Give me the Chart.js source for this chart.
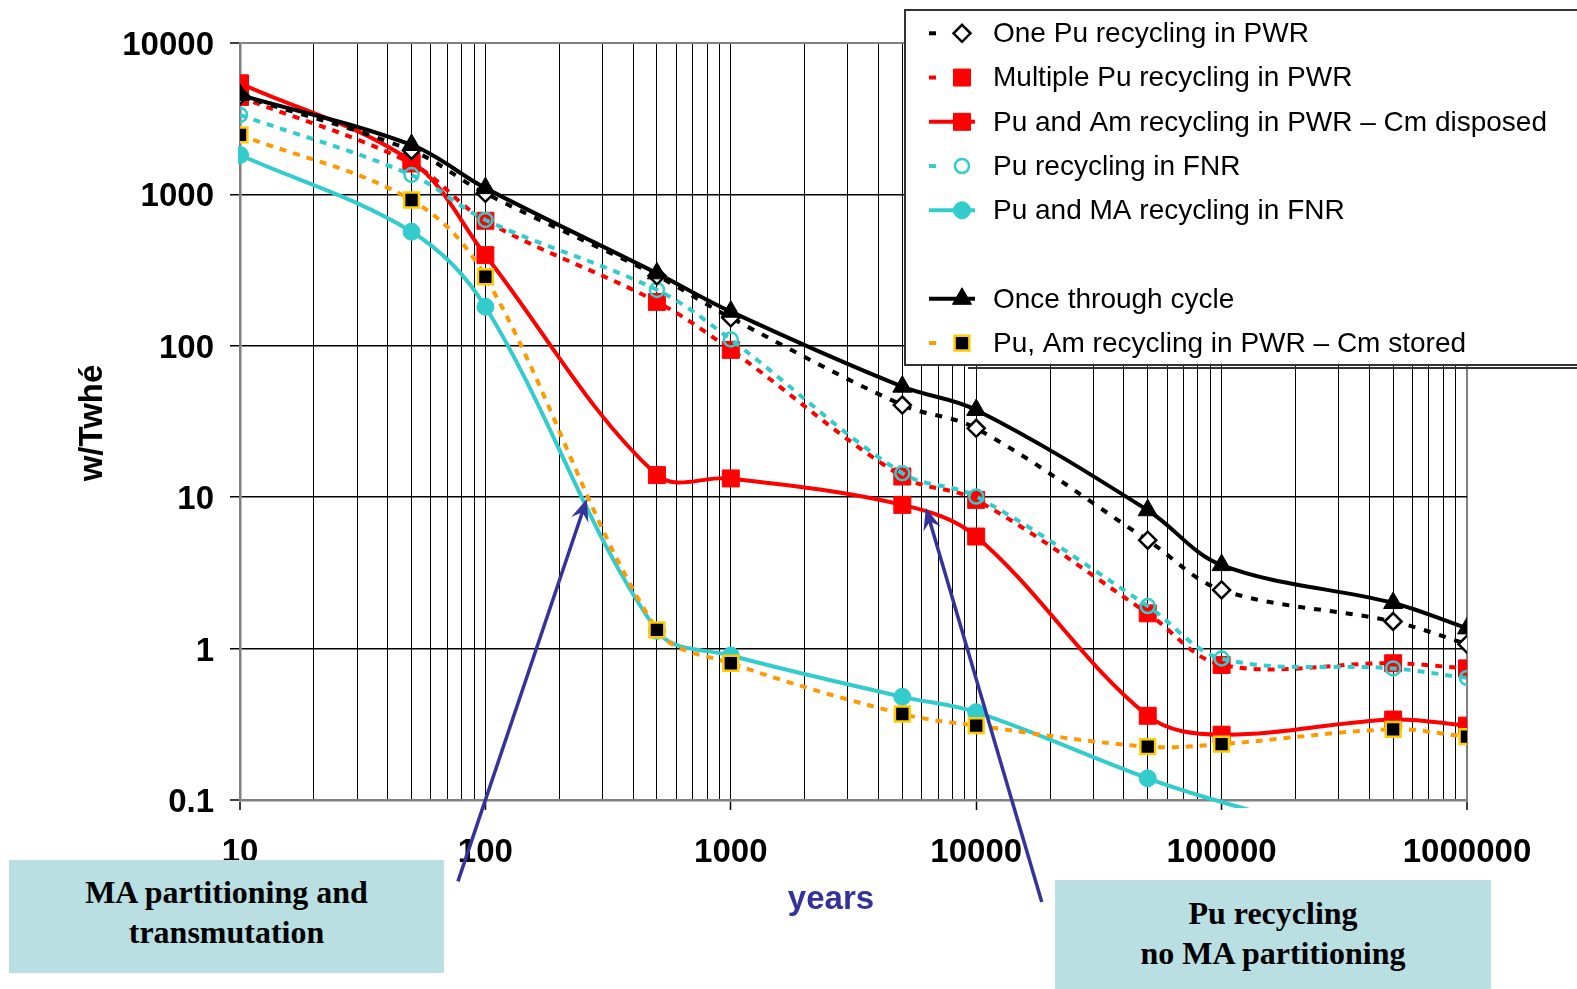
<!DOCTYPE html>
<html>
<head>
<meta charset="utf-8">
<script src="https://cdn.jsdelivr.net/npm/chart.js@4.4.0/dist/chart.umd.min.js"></script>
<style>
  html, body { margin: 0; padding: 0; background: #fff; overflow: hidden; }
  #quadro { position: relative; width: 1577px; height: 989px; }
  #grafico { position: absolute; left: 0; top: 0; }
  .nota {
    position: absolute;
    background: #b9dfe3;
    font-family: "Liberation Serif", "Times New Roman", serif;
    font-weight: bold;
    font-size: 32px;
    line-height: 40px;
    text-align: center;
    box-sizing: border-box;
    color: #000;
  }
</style>
</head>
<body>
<div id="quadro">
  <canvas id="grafico" width="1577" height="989"></canvas>
  <div class="nota" style="left:9px;top:860px;width:435px;height:113px;padding-top:12px">MA partitioning and<br>transmutation</div>
  <div class="nota" style="left:1055px;top:880px;width:436px;height:109px;padding-top:13px">Pu recycling<br>no MA partitioning</div>
</div>
<script>
// anos após a descarga
const anos = [10, 50, 100, 500, 1000, 5000, 10000, 50000, 100000, 500000, 1000000];

// potência térmica (w/TWhe) por cenário
const cicloAberto      = [4540, 2120, 1100, 301, 168, 53.7, 37.7, 8.2, 3.56, 2.0, 1.36];
const umaReciclagemPu  = [4500, 1950, 1016, 290, 153, 40.6, 28.5, 5.2, 2.44, 1.51, 1.07];
const multiplaPuPwr    = [4400, 1600, 670, 195, 94, 13.7, 9.6, 1.71, 0.78, 0.80, 0.74];
const puAmCmDescartado = [5420, 1650, 397, 14.0, 13.3, 8.9, 5.5, 0.36, 0.27, 0.34, 0.31];
const puFnr            = [3350, 1344, 678, 234, 110, 14.4, 10.1, 1.91, 0.86, 0.74, 0.64];
const puAmFnr          = [1820, 567, 181, 1.31, 0.90, 0.48, 0.38, 0.139, 0.097, 0.047, null];
const puAmCmArmazenado = [2470, 918, 286, 1.33, 0.80, 0.37, 0.31, 0.225, 0.234, 0.293, 0.262];

// rótulos dos eixos
const xRotulos = [10, 100, 1000, 10000, 100000, 1000000];
const yRotulos = [0.1, 1, 10, 100, 1000, 10000];
const multiplosMenores = [1, 2, 3, 4, 5, 6, 7, 8, 9];

// setas das anotações (coordenadas em anos / w/TWhe)
const setas = [
  { de: [77.3, 0.029], para: [259, 9.73] },
  { de: [18500, 0.0212], para: [6237, 8.49] }
];

const PRETO = "#000000";
const VERMELHO = "#ff0000";
const CIANO = "#33cccc";
const LARANJA = "#ff9900";
const OURO = "#ffcc00";
const CINZA = "#808080";
const AZUL = "#333399";
const FONTE = "'Liberation Sans', Arial, sans-serif";

function pontos(valores) {
  return anos.map((x, i) => ({ x, y: valores[i] })).filter(p => p.y !== null);
}

const xGrade = [];
xRotulos.slice(0, -1).forEach(d => multiplosMenores.forEach(m => xGrade.push(d * m)));
xGrade.push(xRotulos[xRotulos.length - 1]);

// ordem do array = ordem de desenho (primeiro fica por cima)
const datasets = [
  {
    label: "Once through cycle", data: pontos(cicloAberto),
    borderColor: PRETO, borderWidth: 4, tension: 0.35,
    pointStyle: "triangle", pointRadius: 11, pointBackgroundColor: PRETO, pointBorderColor: PRETO, pointBorderWidth: 1
  },
  {
    label: "One Pu recycling in PWR", data: pontos(umaReciclagemPu),
    borderColor: PRETO, borderWidth: 4, borderDash: [7, 9], tension: 0.35,
    pointStyle: "rectRot", pointRadius: 8.5, pointBackgroundColor: "#ffffff", pointBorderColor: PRETO, pointBorderWidth: 2.5
  },
  {
    label: "Pu recycling in FNR", data: pontos(puFnr),
    borderColor: CIANO, borderWidth: 4, borderDash: [7, 7], tension: 0.35,
    pointStyle: "circle", pointRadius: 7, pointBackgroundColor: "rgba(0,0,0,0)", pointBorderColor: CIANO, pointBorderWidth: 2.5
  },
  {
    label: "Pu, Am recycling in PWR – Cm stored", data: pontos(puAmCmArmazenado),
    borderColor: LARANJA, borderWidth: 4, borderDash: [7, 7], tension: 0.35,
    pointStyle: "rect", pointRadius: 10.5, pointBackgroundColor: PRETO, pointBorderColor: OURO, pointBorderWidth: 2.5
  },
  {
    label: "Multiple Pu recycling in PWR", data: pontos(multiplaPuPwr),
    borderColor: VERMELHO, borderWidth: 4, borderDash: [7, 7], tension: 0.35,
    pointStyle: "rect", pointRadius: 12, pointBackgroundColor: VERMELHO, pointBorderColor: VERMELHO, pointBorderWidth: 1
  },
  {
    label: "Pu and Am recycling in PWR – Cm disposed", data: pontos(puAmCmDescartado),
    borderColor: VERMELHO, borderWidth: 4, tension: 0.35,
    pointStyle: "rect", pointRadius: 12, pointBackgroundColor: VERMELHO, pointBorderColor: VERMELHO, pointBorderWidth: 1
  },
  {
    label: "Pu and MA recycling in FNR", data: pontos(puAmFnr),
    borderColor: CIANO, borderWidth: 4, tension: 0.35,
    clip: { left: 2, top: 2, right: 2, bottom: 8 },
    pointStyle: "circle", pointRadius: c => (c.raw && c.raw.y < yRotulos[0] ? 0 : 8.5),
    pointBackgroundColor: CIANO, pointBorderColor: CIANO, pointBorderWidth: 1
  }
];

// ordem da legenda (null = linha em branco)
const ordemLegenda = [
  "One Pu recycling in PWR",
  "Multiple Pu recycling in PWR",
  "Pu and Am recycling in PWR – Cm disposed",
  "Pu recycling in FNR",
  "Pu and MA recycling in FNR",
  null,
  "Once through cycle",
  "Pu, Am recycling in PWR – Cm stored"
];

function desenharMarcador(ctx, ds, x, y) {
  const r = typeof ds.pointRadius === "function" ? 8.5 : ds.pointRadius;
  ctx.save();
  ctx.fillStyle = ds.pointBackgroundColor;
  ctx.strokeStyle = ds.pointBorderColor;
  ctx.lineWidth = ds.pointBorderWidth;
  ctx.setLineDash([]);
  if (Chart.helpers && Chart.helpers.drawPoint) {
    Chart.helpers.drawPoint(ctx, { pointStyle: ds.pointStyle, rotation: 0, radius: r, borderWidth: ds.pointBorderWidth }, x, y);
  }
  ctx.restore();
}

const pluginExtras = {
  id: "extras",
  afterDraw(chart) {
    const ctx = chart.ctx;
    const sx = chart.scales.x;
    const sy = chart.scales.y;

    // títulos dos eixos
    ctx.save();
    ctx.font = "bold 33px " + FONTE;
    ctx.fillStyle = AZUL;
    ctx.textAlign = "center";
    ctx.textBaseline = "middle";
    ctx.fillText("years", 831, 900);
    ctx.fillStyle = PRETO;
    ctx.translate(93, 423);
    ctx.rotate(-Math.PI / 2);
    ctx.fillText("w/Twhé", 0, 0);
    ctx.restore();

    // setas
    setas.forEach(s => {
      const x0 = sx.getPixelForValue(s.de[0]);
      const y0 = sy.getPixelForValue(s.de[1]);
      const x1 = sx.getPixelForValue(s.para[0]);
      const y1 = sy.getPixelForValue(s.para[1]);
      const ang = Math.atan2(y1 - y0, x1 - x0);
      ctx.save();
      ctx.strokeStyle = AZUL;
      ctx.fillStyle = AZUL;
      ctx.lineWidth = 3.5;
      ctx.beginPath();
      ctx.moveTo(x0, y0);
      ctx.lineTo(x1 - Math.cos(ang) * 10, y1 - Math.sin(ang) * 10);
      ctx.stroke();
      ctx.translate(x1, y1);
      ctx.rotate(ang);
      ctx.beginPath();
      ctx.moveTo(0, 0);
      ctx.lineTo(-22, -9);
      ctx.lineTo(-14, 0);
      ctx.lineTo(-22, 9);
      ctx.closePath();
      ctx.fill();
      ctx.restore();
    });

    // legenda
    const lx = 905, ly = 10, lw = 700, lh = 355;
    ctx.save();
    ctx.fillStyle = "#ffffff";
    ctx.fillRect(lx, ly, lw, lh);
    ctx.strokeStyle = "#333333";
    ctx.lineWidth = 2;
    ctx.strokeRect(lx, ly, lw, lh);
    ctx.beginPath();
    ctx.moveTo(968, ly + lh + 3);
    ctx.lineTo(1577, ly + lh + 3);
    ctx.stroke();
    ctx.font = "28px " + FONTE;
    ctx.textBaseline = "middle";
    ctx.textAlign = "left";
    ordemLegenda.forEach((nome, i) => {
      if (!nome) return;
      const ds = datasets.find(d => d.label === nome);
      const y = 33.3 + i * 44.25;
      ctx.save();
      ctx.strokeStyle = ds.borderColor;
      ctx.lineWidth = 4;
      ctx.beginPath();
      if (ds.borderDash) {
        ctx.moveTo(929, y);
        ctx.lineTo(936, y);
      } else {
        ctx.moveTo(929, y);
        ctx.lineTo(975, y);
      }
      ctx.stroke();
      ctx.restore();
      desenharMarcador(ctx, ds, 962, y);
      ctx.fillStyle = PRETO;
      ctx.fillText(nome, 993, y + 1);
    });
    ctx.restore();
  }
};

new Chart(document.getElementById("grafico"), {
  type: "line",
  data: { datasets },
  options: {
    responsive: false,
    animation: false,
    events: [],
    layout: { padding: { top: 43, right: 110, left: 0, bottom: 0 } },
    plugins: { legend: { display: false }, tooltip: { enabled: false } },
    scales: {
      x: {
        type: "logarithmic",
        min: xRotulos[0],
        max: xRotulos[xRotulos.length - 1],
        afterBuildTicks: axis => { axis.ticks = xGrade.map(v => ({ value: v })); },
        afterFit: axis => { axis.height = 189; },
        ticks: {
          autoSkip: false, maxRotation: 0, minRotation: 0, padding: 23,
          color: PRETO, font: { family: FONTE, size: 33, weight: "bold" },
          callback: v => (xRotulos.includes(v) ? String(v) : "")
        },
        grid: {
          color: c => (c.tick && (c.tick.value === xRotulos[0] || c.tick.value === xRotulos[xRotulos.length - 1]) ? CINZA : PRETO),
          lineWidth: c => (c.tick && (c.tick.value === xRotulos[0] || c.tick.value === xRotulos[xRotulos.length - 1]) ? 2 : 1),
          tickLength: 10,
          tickColor: c => (c.tick && xRotulos.includes(c.tick.value) ? PRETO : "rgba(0,0,0,0)"),
          tickWidth: 1.5
        },
        border: { color: CINZA, width: 2.5 }
      },
      y: {
        type: "logarithmic",
        min: yRotulos[0],
        max: yRotulos[yRotulos.length - 1],
        afterBuildTicks: axis => { axis.ticks = yRotulos.map(v => ({ value: v })); },
        afterFit: axis => { axis.width = 240; },
        ticks: {
          padding: 16, labelOffset: 3, color: PRETO, font: { family: FONTE, size: 33, weight: "bold" },
          callback: v => String(v)
        },
        grid: {
          color: c => (c.tick && (c.tick.value === yRotulos[0] || c.tick.value === yRotulos[yRotulos.length - 1]) ? CINZA : PRETO),
          lineWidth: c => (c.tick && (c.tick.value === yRotulos[0] || c.tick.value === yRotulos[yRotulos.length - 1]) ? 2 : 1.5),
          tickLength: 10,
          tickColor: PRETO,
          tickWidth: 1.5
        },
        border: { color: CINZA, width: 2.5 }
      }
    }
  },
  plugins: [pluginExtras]
});
</script>
</body>
</html>
